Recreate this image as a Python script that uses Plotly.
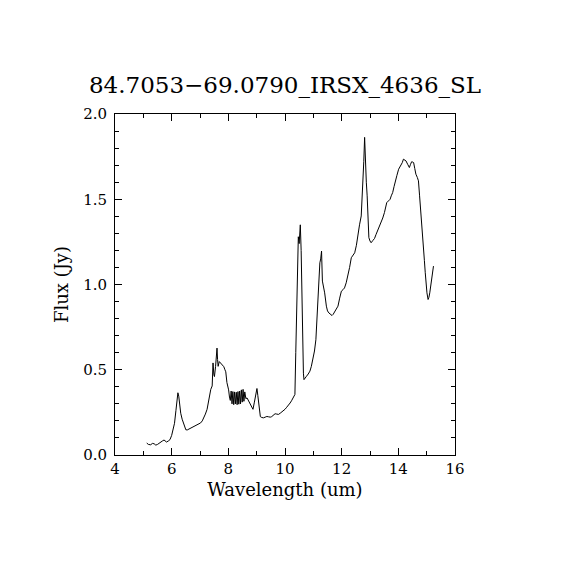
import plotly.graph_objects as go

# spectrum
wavelength = [
    5.12, 5.18, 5.26, 5.32, 5.38, 5.44, 5.50, 5.56, 5.61, 5.67, 5.73, 5.78, 5.82, 5.88, 5.94,
    6.00, 6.05, 6.10, 6.15, 6.18, 6.22, 6.25, 6.28, 6.32, 6.37, 6.41, 6.46, 6.50, 6.55, 6.61,
    6.66, 6.72, 6.80, 6.90, 6.96, 7.02, 7.08, 7.13, 7.19, 7.25, 7.30, 7.34, 7.38, 7.43, 7.46,
    7.49, 7.51, 7.55, 7.58, 7.60, 7.62, 7.64, 7.68, 7.72, 7.75, 7.80, 7.84, 7.88, 7.91, 7.95,
    7.98, 8.01, 8.04, 8.07, 8.10, 8.13, 8.16, 8.19, 8.22, 8.25, 8.28, 8.31, 8.34, 8.37, 8.40,
    8.43, 8.46, 8.49, 8.52, 8.55, 8.58, 8.62, 8.66, 8.72, 8.77, 8.82, 8.87, 8.92, 8.95, 8.98,
    9.01, 9.04, 9.07, 9.10, 9.13, 9.18, 9.24, 9.30, 9.36, 9.42, 9.48, 9.53, 9.59, 9.65, 9.71,
    9.77, 9.83, 9.89, 9.94, 10.00, 10.06, 10.12, 10.18, 10.23, 10.29, 10.35, 10.38, 10.41, 10.44, 10.47,
    10.50, 10.54, 10.57, 10.60, 10.62, 10.65, 10.67, 10.72, 10.76, 10.82, 10.88, 10.93, 10.99, 11.04, 11.09,
    11.13, 11.17, 11.21, 11.23, 11.26, 11.29, 11.32, 11.36, 11.40, 11.46, 11.50, 11.55, 11.61, 11.66, 11.70,
    11.75, 11.81, 11.87, 11.93, 11.99, 12.05, 12.10, 12.16, 12.22, 12.28, 12.34, 12.40, 12.46, 12.52, 12.57,
    12.63, 12.69, 12.72, 12.75, 12.78, 12.81, 12.84, 12.87, 12.90, 12.93, 12.96, 13.00, 13.04, 13.10, 13.16,
    13.21, 13.27, 13.33, 13.39, 13.45, 13.51, 13.55, 13.59, 13.65, 13.71, 13.75, 13.80, 13.85, 13.89, 13.95,
    14.01, 14.05, 14.09, 14.14, 14.18, 14.23, 14.27, 14.33, 14.39, 14.43, 14.47, 14.51, 14.54, 14.58, 14.62,
    14.67, 14.71, 14.75, 14.80, 14.84, 14.88, 14.92, 14.95, 14.98, 15.01, 15.05, 15.08, 15.11, 15.15, 15.18,
    15.21, 15.24,
]
flux = [
    0.070, 0.062, 0.060, 0.068, 0.066, 0.058, 0.062, 0.070, 0.078, 0.082, 0.088, 0.080, 0.076, 0.082, 0.090,
    0.115, 0.145, 0.186, 0.260, 0.310, 0.365, 0.345, 0.300, 0.245, 0.210, 0.186, 0.165, 0.148, 0.147, 0.152,
    0.158, 0.163, 0.168, 0.175, 0.180, 0.188, 0.200, 0.216, 0.240, 0.268, 0.320, 0.365, 0.385, 0.405, 0.540,
    0.470, 0.460, 0.520, 0.580, 0.627, 0.560, 0.520, 0.548, 0.540, 0.538, 0.528, 0.518, 0.500, 0.488, 0.425,
    0.405, 0.382, 0.340, 0.320, 0.375, 0.300, 0.372, 0.295, 0.370, 0.300, 0.368, 0.295, 0.372, 0.298, 0.375,
    0.300, 0.382, 0.310, 0.385, 0.315, 0.370, 0.330, 0.335, 0.315, 0.300, 0.285, 0.268, 0.310, 0.340, 0.370,
    0.390, 0.350, 0.310, 0.250, 0.225, 0.220, 0.218, 0.222, 0.226, 0.224, 0.222, 0.225, 0.235, 0.242, 0.240,
    0.238, 0.245, 0.252, 0.258, 0.268, 0.280, 0.290, 0.305, 0.318, 0.335, 0.355, 0.600, 0.890, 1.100, 1.280,
    1.240, 1.350, 1.200, 0.900, 0.640, 0.480, 0.442, 0.450, 0.462, 0.475, 0.492, 0.520, 0.560, 0.610, 0.676,
    0.820, 0.990, 1.080, 1.127, 1.150, 1.196, 1.020, 0.990, 0.951, 0.873, 0.845, 0.833, 0.822, 0.818, 0.825,
    0.837, 0.855, 0.873, 0.920, 0.961, 0.970, 0.980, 1.010, 1.049, 1.100, 1.157, 1.172, 1.186, 1.230, 1.294,
    1.350, 1.402, 1.500, 1.578, 1.720, 1.863, 1.676, 1.600, 1.520, 1.400, 1.275, 1.255, 1.245, 1.258, 1.270,
    1.292, 1.314, 1.340, 1.363, 1.390, 1.422, 1.455, 1.480, 1.490, 1.500, 1.520, 1.539, 1.575, 1.608, 1.640,
    1.676, 1.686, 1.696, 1.715, 1.735, 1.730, 1.725, 1.705, 1.686, 1.705, 1.720, 1.718, 1.715, 1.680, 1.647,
    1.628, 1.608, 1.520, 1.422, 1.320, 1.225, 1.140, 1.069, 1.000, 0.951, 0.912, 0.925, 0.951, 1.000, 1.040,
    1.075, 1.108,
]

title = "84.7053\u221269.0790_IRSX_4636_SL"

fnt = "DejaVu Serif"

fig = go.Figure(go.Scatter(x=wavelength, y=flux, mode="lines",
                           line=dict(color="black", width=1), hoverinfo="skip"))

axis_common = dict(
    showline=True, linecolor="black", linewidth=1, mirror="ticks",
    ticks="inside", ticklen=7, tickcolor="black", tickwidth=1,
    showgrid=False, zeroline=False,
    tickfont=dict(family=fnt, size=15, color="black"),
)

fig.update_xaxes(
    range=[4, 16], dtick=2, tick0=4,
    minor=dict(dtick=1, ticks="inside", ticklen=4, tickcolor="black"),
    title=dict(text="Wavelength (um)", font=dict(family=fnt, size=18, color="black"), standoff=6),
    **axis_common,
)
fig.update_yaxes(
    range=[0, 2], dtick=0.5, tick0=0, tickformat=".1f",
    minor=dict(dtick=0.1, ticks="inside", ticklen=4, tickcolor="black"),
    ticklabelstandoff=4,
    title=dict(text="Flux (Jy)", font=dict(family=fnt, size=18, color="black"), standoff=9),
    **axis_common,
)

# the page body adds an 8px offset, so the margins are shifted to compensate
fig.update_layout(
    width=570, height=570,
    margin=dict(l=107, r=123, t=106, b=123),
    paper_bgcolor="white", plot_bgcolor="white",
    showlegend=False,
    title=dict(text=title, x=0.5, xanchor="center", xref="paper",
               y=1 - 77 / 570, yref="container", yanchor="middle",
               font=dict(family=fnt, size=23, color="black")),
)

fig.write_html("out.html")
